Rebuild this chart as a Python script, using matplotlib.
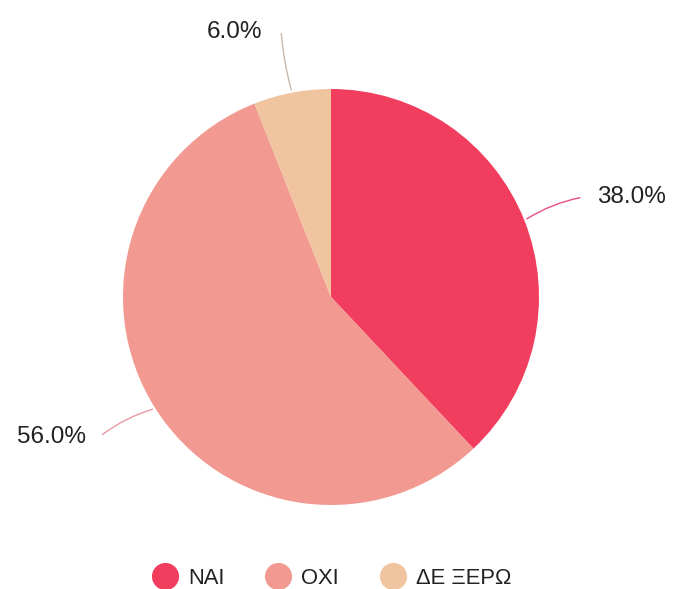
import matplotlib.pyplot as plt
from matplotlib.lines import Line2D
import numpy as np

labels = ["NAI", "OXI", "ΔΕ ΞΕΡΩ"]
values = [38.0, 56.0, 6.0]
colors = ["#F23E5E", "#F29A92", "#EFC49F"]
line_colors = ["#E8507A", "#E89AA4", "#C8B8A8"]

plt.rcParams['font.family'] = ['Liberation Sans', 'DejaVu Sans']

fig = plt.figure(figsize=(6.75, 5.89), dpi=100)
# pie centre ~ (331, 297) px, radius ~ 208 px
cx, cy, r = 331, 297, 208
W, H = 675, 589
ax = fig.add_axes([(cx - r) / W, (H - cy - r) / H, 2 * r / W, 2 * r / H])

wedges, _ = ax.pie(values, colors=colors, startangle=90, counterclock=False,
                   radius=1, wedgeprops=dict(linewidth=0))
ax.set_xlim(-1, 1)
ax.set_ylim(-1, 1)
ax.set_aspect('equal')
ax.axis('off')

# leader line ends and label anchors (in units of the radius)
line_end = [(1.21, 0.48), (-1.11, -0.67), (-0.24, 1.28)]
text_pos = [(1.28, 0.48), (-1.18, -0.675), (-0.33, 1.275)]
ha = ['left', 'right', 'right']
rads = [0.1, -0.1, 0.05]

for i, w in enumerate(wedges):
    ang = np.deg2rad((w.theta1 + w.theta2) / 2)
    x, y = np.cos(ang), np.sin(ang)
    ax.annotate("", xy=(x, y), xytext=line_end[i],
                arrowprops=dict(arrowstyle='-', color=line_colors[i], lw=1,
                                connectionstyle=f"arc3,rad={rads[i]}"),
                annotation_clip=False)
    ax.text(text_pos[i][0], text_pos[i][1], f"{values[i]:.1f}%", ha=ha[i],
            va='center', fontsize=17.5, color='#222222', clip_on=False)

handles = [Line2D([0], [0], marker='o', linestyle='', markersize=18.5,
                  markerfacecolor=c, markeredgecolor=c) for c in colors]
fig.legend(handles, labels, loc='center', bbox_to_anchor=(0.485, 1 - 578 / H),
           ncol=3, frameon=False, fontsize=15.8, handletextpad=0.05,
           columnspacing=1.45, labelcolor='#222222')

fig.savefig("out.png", dpi=100, facecolor='white')
